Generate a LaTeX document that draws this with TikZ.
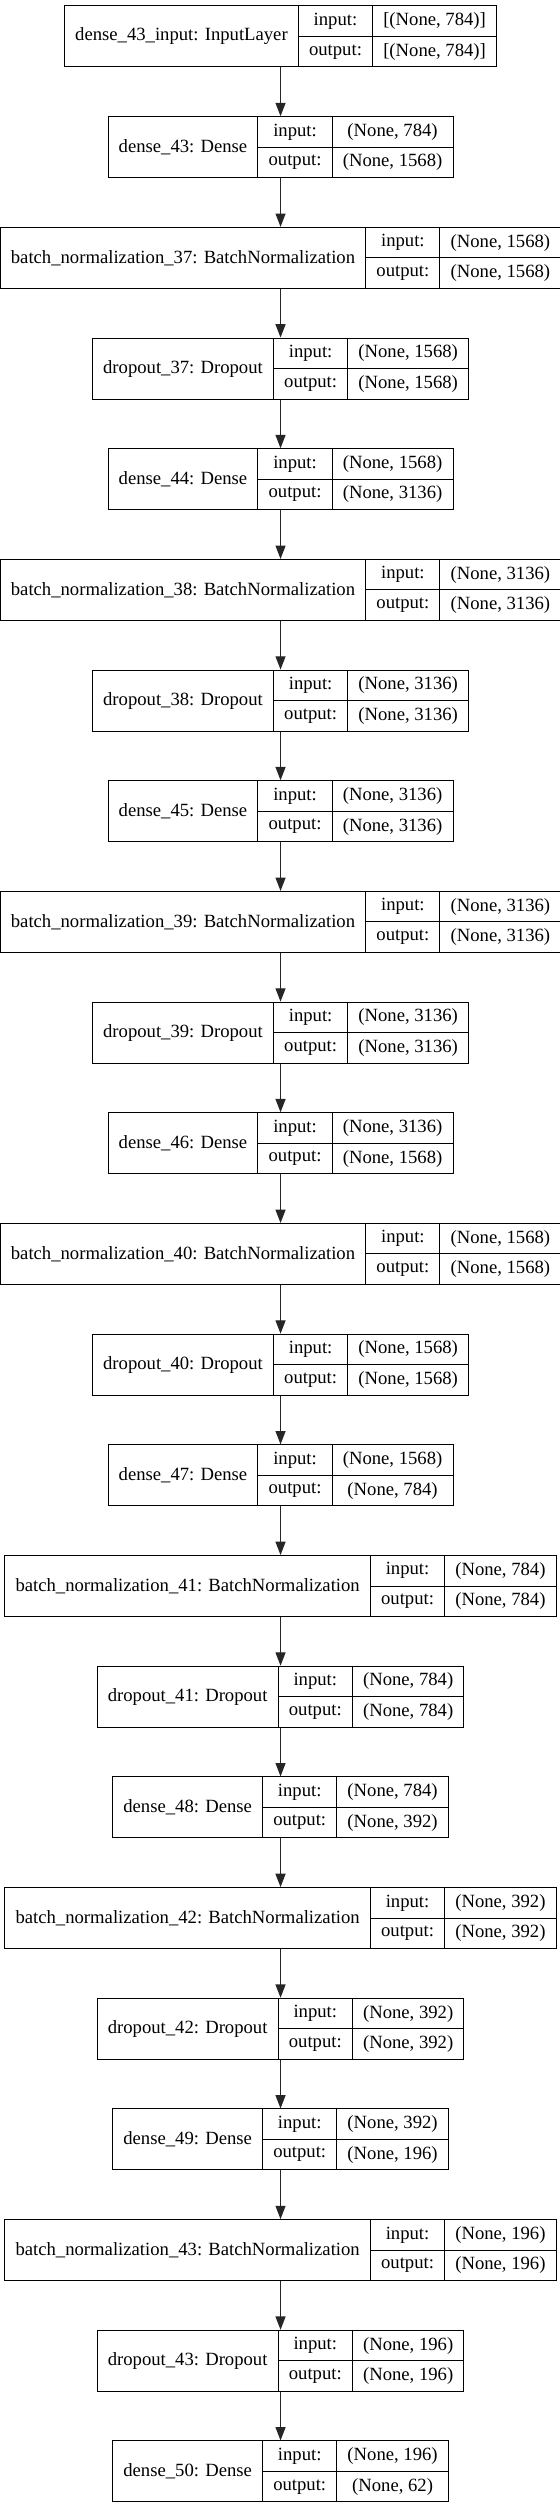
\documentclass[tikz,border=0pt]{standalone}
\usepackage{fontspec}
\setmainfont{Liberation Serif}
\usetikzlibrary{arrows.meta,calc}

\newlength\LWa
\newlength\LWb
\newlength\LWc
\newlength\LWt
\newcommand\lfont{\fontsize{14pt}{16pt}\selectfont}

\tikzset{
  layerbox/.style={draw=black, line width=0.75pt, inner sep=0pt, minimum height=45.75pt},
  cell/.style={inner sep=0pt, font=\lfont, text=black},
  sepline/.style={draw=black, line width=0.75pt},
  flow/.style={draw=black!85, line width=0.9pt, -{Triangle[length=10pt,width=7.5pt]}},
}

% measure the three field widths of a layer (done outside the picture)
\newcommand\measurelayer[5]{%
  \settowidth\LWa{\lfont #2}\addtolength\LWa{16pt}%
  \settowidth\LWb{\lfont output:}\addtolength\LWb{16pt}%
  \settowidth\LWc{\lfont #3}\settowidth\LWt{\lfont #4}%
  \ifdim\LWt>\LWc \LWc=\LWt\fi
  \addtolength\LWc{16pt}%
  \expandafter\xdef\csname wa#1\endcsname{\strip@pt\LWa}%
  \expandafter\xdef\csname wb#1\endcsname{\strip@pt\LWb}%
  \expandafter\xdef\csname wc#1\endcsname{\strip@pt\LWc}%
}

\newcommand\drawlayer[5]{%
  \pgfmathsetmacro\yc{-(36.5+110.68*#5)*0.75}%
  \pgfmathsetmacro\W{\csname wa#1\endcsname+\csname wb#1\endcsname+\csname wc#1\endcsname}%
  \pgfmathsetmacro\xl{210.4-\W/2}%
  \pgfmathsetmacro\xa{\xl+\csname wa#1\endcsname}%
  \pgfmathsetmacro\xb{\xa+\csname wb#1\endcsname}%
  \pgfmathsetmacro\xr{\xl+\W}%
  \pgfmathsetmacro\yt{\yc+22.875}%
  \pgfmathsetmacro\yb{\yc-22.875}%
  \pgfmathsetmacro\yu{\yc+11.4375}%
  \pgfmathsetmacro\yd{\yc-11.4375}%
  \pgfmathsetmacro\cl{(\xl+\xa)/2}%
  \pgfmathsetmacro\cm{(\xa+\xb)/2}%
  \pgfmathsetmacro\cr{(\xb+\xr)/2}%
  \node[layerbox, minimum width=\W pt] (#1) at (210.4pt,\yc pt) {};
  \draw[sepline] (\xa pt,\yt pt) -- (\xa pt,\yb pt);
  \draw[sepline] (\xb pt,\yt pt) -- (\xb pt,\yb pt);
  \draw[sepline] (\xa pt,\yc pt) -- (\xr pt,\yc pt);
  \node[cell] (#1-lbl) at (\cl pt,\yc pt) {#2};
  \node[cell] (#1-ik) at (\cm pt,\yu pt) {input:};
  \node[cell] (#1-ok) at (\cm pt,\yd pt) {output:};
  \node[cell] (#1-iv) at (\cr pt,\yu pt) {#3};
  \node[cell] (#1-ov) at (\cr pt,\yd pt) {#4};
}

\makeatletter
\let\mystrip\strip@pt
\makeatother
\def\strip@pt{\mystrip}

\newcommand\alllayers{%
\LAYER{L0}{dense\_43\_input: InputLayer}{[(None, 784)]}{[(None, 784)]}{0}%
\LAYER{L1}{dense\_43: Dense}{(None, 784)}{(None, 1568)}{1}%
\LAYER{L2}{batch\_normalization\_37: BatchNormalization}{(None, 1568)}{(None, 1568)}{2}%
\LAYER{L3}{dropout\_37: Dropout}{(None, 1568)}{(None, 1568)}{3}%
\LAYER{L4}{dense\_44: Dense}{(None, 1568)}{(None, 3136)}{4}%
\LAYER{L5}{batch\_normalization\_38: BatchNormalization}{(None, 3136)}{(None, 3136)}{5}%
\LAYER{L6}{dropout\_38: Dropout}{(None, 3136)}{(None, 3136)}{6}%
\LAYER{L7}{dense\_45: Dense}{(None, 3136)}{(None, 3136)}{7}%
\LAYER{L8}{batch\_normalization\_39: BatchNormalization}{(None, 3136)}{(None, 3136)}{8}%
\LAYER{L9}{dropout\_39: Dropout}{(None, 3136)}{(None, 3136)}{9}%
\LAYER{L10}{dense\_46: Dense}{(None, 3136)}{(None, 1568)}{10}%
\LAYER{L11}{batch\_normalization\_40: BatchNormalization}{(None, 1568)}{(None, 1568)}{11}%
\LAYER{L12}{dropout\_40: Dropout}{(None, 1568)}{(None, 1568)}{12}%
\LAYER{L13}{dense\_47: Dense}{(None, 1568)}{(None, 784)}{13}%
\LAYER{L14}{batch\_normalization\_41: BatchNormalization}{(None, 784)}{(None, 784)}{14}%
\LAYER{L15}{dropout\_41: Dropout}{(None, 784)}{(None, 784)}{15}%
\LAYER{L16}{dense\_48: Dense}{(None, 784)}{(None, 392)}{16}%
\LAYER{L17}{batch\_normalization\_42: BatchNormalization}{(None, 392)}{(None, 392)}{17}%
\LAYER{L18}{dropout\_42: Dropout}{(None, 392)}{(None, 392)}{18}%
\LAYER{L19}{dense\_49: Dense}{(None, 392)}{(None, 196)}{19}%
\LAYER{L20}{batch\_normalization\_43: BatchNormalization}{(None, 196)}{(None, 196)}{20}%
\LAYER{L21}{dropout\_43: Dropout}{(None, 196)}{(None, 196)}{21}%
\LAYER{L22}{dense\_50: Dense}{(None, 196)}{(None, 62)}{22}%
}

\begin{document}
\let\LAYER\measurelayer
\alllayers
\begin{tikzpicture}
\fill[white] (0,0) rectangle (420pt,-1881pt);
\useasboundingbox (0,0) rectangle (420pt,-1881pt);
\let\LAYER\drawlayer
\alllayers
\foreach \a [evaluate=\a as \b using int(\a+1)] in {0,...,21}{
  \draw[flow] (L\a) -- (L\b);
}
\end{tikzpicture}
\end{document}
